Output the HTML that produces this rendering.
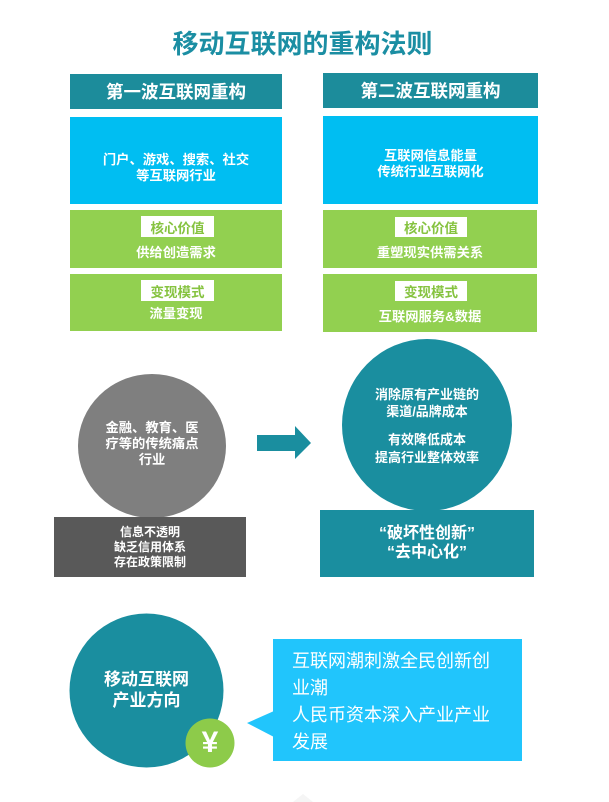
<!DOCTYPE html>
<html>
<head>
<meta charset="utf-8">
<style>
  html, body { margin:0; padding:0; }
  body { width:609px; height:802px; background:#ffffff; position:relative; overflow:hidden;
         font-family:"Liberation Sans","Noto Sans CJK SC","WenQuanYi Zen Hei",sans-serif; }
  .abs { position:absolute; }
  .c { text-align:center; white-space:nowrap; }
  .box { position:absolute; display:flex; flex-direction:column; align-items:center; justify-content:center; box-sizing:border-box; }
  .hdr { background:#1c8c9b; color:#fff; font-weight:bold; font-size:17.5px; }
  .blue { background:#00bef2; color:#fff; font-weight:bold; font-size:13.3px; line-height:16px; text-align:center; }
  .green { background:#92d050; }
  .lbl { position:absolute; background:#fff; color:#86c340; font-weight:bold; font-size:13.5px;
         display:flex; align-items:center; justify-content:center; }
  .gtxt { position:absolute; color:#fff; font-weight:bold; font-size:13.3px; text-align:center; white-space:nowrap; }
</style>
</head>
<body>

<!-- Title -->
<div class="abs c" style="left:0; width:605px; top:28px; font-size:26px; line-height:32px; font-weight:bold; color:#1b8ea3;">移动互联网的重构法则</div>

<!-- Headers -->
<div class="box hdr" style="left:70px; top:74px; width:212px; height:35px;">第一波互联网重构</div>
<div class="box hdr" style="left:323px; top:73px; width:215px; height:35px;">第二波互联网重构</div>

<!-- Blue boxes -->
<div class="box blue" style="left:70px; top:117px; width:212px; height:87px; padding-top:14px;"><div>门户、游戏、搜索、社交</div><div>等互联网行业</div></div>
<div class="box blue" style="left:323px; top:116px; width:215px; height:88px; padding-top:8px;"><div>互联网信息能量</div><div>传统行业互联网化</div></div>

<!-- Green left 1 -->
<div class="abs green" style="left:70px; top:210px; width:212px; height:58px;"></div>
<div class="lbl" style="left:141px; top:216px; width:73px; height:21px;">核心价值</div>
<div class="gtxt" style="left:70px; width:212px; top:244px; line-height:18px;">供给创造需求</div>

<!-- Green left 2 -->
<div class="abs green" style="left:70px; top:274px; width:212px; height:57px;"></div>
<div class="lbl" style="left:141px; top:280px; width:73px; height:21px;">变现模式</div>
<div class="gtxt" style="left:70px; width:212px; top:305px; line-height:18px;">流量变现</div>

<!-- Green right 1 -->
<div class="abs green" style="left:323px; top:210px; width:214px; height:58px;"></div>
<div class="lbl" style="left:395px; top:217px; width:72px; height:20px;">核心价值</div>
<div class="gtxt" style="left:323px; width:214px; top:244px; line-height:18px;">重塑现实供需关系</div>

<!-- Green right 2 -->
<div class="abs green" style="left:323px; top:274px; width:214px; height:58px;"></div>
<div class="lbl" style="left:395px; top:281px; width:72px; height:20px;">变现模式</div>
<div class="gtxt" style="left:323px; width:214px; top:308px; line-height:18px;">互联网服务&amp;数据</div>

<!-- Shapes -->
<svg class="abs" style="left:0; top:0;" width="609" height="802">
  <ellipse cx="152" cy="446" rx="74" ry="72" fill="#7f7f7f"/>
  <rect x="54" y="517" width="192" height="60" fill="#595959"/>
  <polygon points="257,435 295,435 295,426 311,443 295,459 295,451 257,451" fill="#1a8e9f"/>
  <ellipse cx="427" cy="425" rx="85" ry="86" fill="#1a8e9f"/>
  <rect x="320" y="510" width="214" height="67" fill="#1a8e9f"/>

  <circle cx="146.5" cy="690.5" r="77" fill="#1a8e9f"/>
  <circle cx="210" cy="743" r="24.5" fill="#8dcb4a"/>
  <rect x="273" y="639" width="249" height="122" fill="#21c5fc"/>
  <polygon points="247,723 274,711 274,737" fill="#21c5fc"/>
  <polygon points="293,802 303,794 313,802" fill="#f5f5f5"/>
</svg>

<!-- gray circle text -->
<div class="gtxt" style="left:78px; width:148px; top:420px; line-height:16px;">金融、教育、医<br>疗等的传统痛点<br>行业</div>
<!-- dark rect text -->
<div class="gtxt" style="left:54px; width:192px; top:525px; line-height:15px; font-size:12px;">信息不透明<br>缺乏信用体系<br>存在政策限制</div>

<!-- teal circle text -->
<div class="gtxt" style="left:342px; width:170px; top:386px; line-height:17px; font-size:13px;">消除原有产业链的<br>渠道/品牌成本</div>
<div class="gtxt" style="left:342px; width:170px; top:431px; line-height:18px; font-size:13px;">有效降低成本<br>提高行业整体效率</div>

<!-- teal rect text -->
<div class="gtxt" style="left:320px; width:214px; top:524px; line-height:19px; font-size:16px;">“破坏性创新”<br>“去中心化”</div>

<!-- bottom circle text -->
<div class="gtxt" style="left:69px; width:155px; top:669px; line-height:21px; font-size:17px;">移动互联网<br>产业方向</div>

<!-- yen -->
<div class="gtxt" style="left:186px; width:48px; top:727px; line-height:32px; font-size:30px;">¥</div>

<!-- bubble text -->
<div class="abs" style="left:292px; top:648px; color:#fff; font-size:18px; line-height:27px; white-space:nowrap;">互联网潮刺激全民创新创<br>业潮<br>人民币资本深入产业产业<br>发展</div>

</body>
</html>
